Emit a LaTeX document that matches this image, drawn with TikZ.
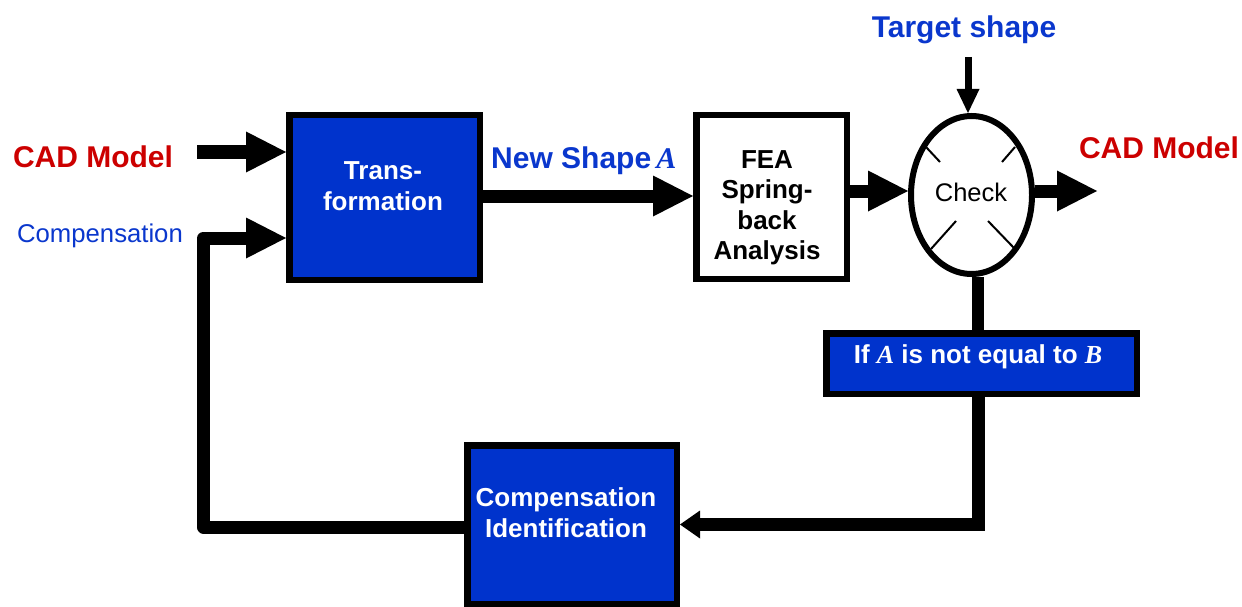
\documentclass[tikz,border=0pt]{standalone}
\usepackage{fontspec}
\setmainfont{Liberation Sans}
\newfontfamily\timesit{Liberation Serif}
\usetikzlibrary{arrows.meta,shapes.geometric}
\definecolor{boxblue}{RGB}{0,51,204}
\definecolor{txtblue}{RGB}{10,55,205}
\definecolor{cadred}{RGB}{204,0,0}
\newcommand{\va}[1]{{\timesit\itshape #1}}
\tikzset{
  bluebox/.style={draw=black, line width=6.5pt, fill=boxblue, inner sep=0pt},
  whitebox/.style={draw=black, line width=6.5pt, fill=white, inner sep=0pt},
  boxtext/.style={text=white, font=\fontsize{26}{31}\selectfont\bfseries, align=center, inner sep=0pt},
  featext/.style={text=black, font=\fontsize{26}{30.5}\selectfont\bfseries, align=center, inner sep=0pt},
  bigflow/.style={line width=13pt, -{Triangle[length=40pt,width=41pt,line width=0pt]}},
  smallflow/.style={line width=7pt, -{Triangle[length=24pt,width=23pt,line width=0pt]}},
  loopflow/.style={line width=13pt, -{Triangle[length=20pt,width=28pt,line width=0pt]}},
  plainflow/.style={line width=12pt},
  redlabel/.style={text=cadred, font=\fontsize{30}{36}\selectfont\bfseries, inner sep=0pt},
  bluelabel/.style={text=txtblue, font=\fontsize{30}{36}\selectfont\bfseries, inner sep=0pt},
}
\begin{document}
\begin{tikzpicture}[x=1pt, y=-1pt]
\useasboundingbox (0,0) rectangle (1242,607);

% blocks
\node[bluebox, minimum width=190.5pt, minimum height=164.5pt] (trans) at (384.5,197.5) {};
\node[whitebox, minimum width=150.5pt, minimum height=163.5pt] (fea) at (771.5,197) {};
\node[draw=black, line width=6pt, fill=white, ellipse, inner sep=0pt,
      minimum width=121pt, minimum height=158pt] (check) at (971.5,195) {};
\node[bluebox, minimum width=310.5pt, minimum height=60.5pt] (ifbox) at (981.5,363.5) {};
\node[bluebox, minimum width=209.5pt, minimum height=158.5pt] (compid) at (572,524.5) {};

% block texts
\node[boxtext] (transtxt) at (383,186) {Trans-\\formation};
\node[featext] (featxt) at (767,208) {FEA\\Spring-\\back\\Analysis};
\node[text=black, font=\fontsize{25.5}{30}\selectfont, inner sep=0pt] (checktxt) at (971,192) {Check};
\node[boxtext] (iftxt) at (978,357) {If \va{A} is not equal to \va{B}};
\node[boxtext] (comptxt) at (566,513) {Compensation\\Identification};

% marks inside the check ellipse
\draw[line width=2pt] (926,147) -- (940,162);
\draw[line width=2pt] (1015,147) -- (1002,162);
\draw[line width=2pt] (931,249) -- (956,221);
\draw[line width=2pt] (988,221) -- (1014,248);

% outer labels
\node[redlabel] (cadin) at (93,157) {CAD Model};
\node[text=txtblue, font=\fontsize{25.7}{30}\selectfont, inner sep=0pt] (comp) at (100,236) {Compensation};
\node[bluelabel, anchor=west] (newshape) at (491,161) {New Shape\,\va{A}};
\node[bluelabel] (target) at (964,30) {Target shape};
\node[redlabel] (cadout) at (1159,148) {CAD Model};

% connector end points
\coordinate (cadstart) at (197,152);
\coordinate (tgtstart) at (968,57);
\coordinate (outend) at (1097,191);
\coordinate (vx) at (978,0);
\coordinate (lb) at (203.5,527);
\coordinate (lt) at (203.5,238);
\coordinate (rb) at (978,524.5);

% connectors
\draw[bigflow] (cadstart) -- (cadstart -| trans.west);
\draw[bigflow] (trans.east |- 0,196) -- (fea.west |- 0,196);
\draw[bigflow] (fea.east |- 0,191) -- (check.west |- 0,191);
\draw[bigflow] (check.east |- 0,191) -- (outend);
\draw[smallflow] (tgtstart) -- (tgtstart |- check.north);
\draw[plainflow] (check.south -| vx) -- (ifbox.north -| vx);
\draw[loopflow] (ifbox.south -| vx) -- (rb) -- (compid.east |- rb);
\draw[bigflow, line join=round] (compid.west |- lb) -- (lb) -- (lt) -- (trans.west |- lt);
\end{tikzpicture}
\end{document}
